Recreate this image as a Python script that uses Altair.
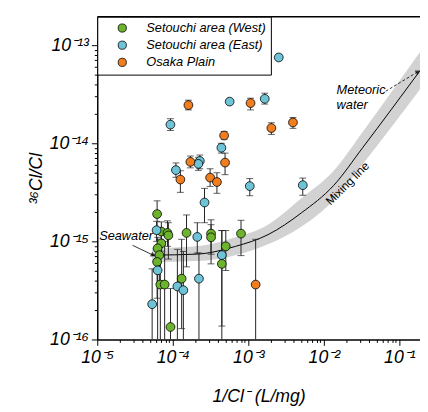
import altair as alt
import pandas as pd

FONT = "Liberation Sans"
W, H = 329, 329
XMIN, XMAX = 1e-5, 0.1875
YMIN, YMAX = 1e-16, 1.95e-13

series_names = ["Setouchi area (West)", "Setouchi area (East)", "Osaka Plain"]
series_colors = ["#6cb42c", "#6ec4d6", "#f07d1e"]

# Setouchi area (West)
west_x = [6.2e-5, 7.05e-5, 8.5e-5, 8.74e-5, 1.52e-4, 3.21e-4, 3.21e-4, 8.0e-4, 5.03e-4,
          4.46e-4, 7.05e-5, 6.3e-5, 6.64e-5, 6.2e-5, 6.84e-5, 7.8e-5, 1.31e-4, 9.33e-5]
west_y = [1.9e-15, 1.26e-15, 1.22e-15, 1.15e-15, 1.22e-15, 1.2e-15, 1.1e-15, 1.2e-15, 8.9e-16,
          5.9e-16, 9.55e-16, 8.5e-16, 7.24e-16, 6.17e-16, 3.63e-16, 3.63e-16, 4.17e-16, 1.34e-16]
west_hi = [2.59e-15, 1.58e-15, 1.62e-15, 1.55e-15, 1.86e-15, 1.66e-15, 1.48e-15, 1.64e-15, 1.29e-15,
           1.29e-15, 1.26e-15, 1.1e-15, 9.33e-16, 8.3e-16, 1.05e-15, 1.0e-15, 1.05e-15, 3.31e-16]
west_lo = [1.38e-15, 7.94e-16, 8.9e-16, 6.6e-16, 5.5e-16, 5.9e-16, 7.4e-16, 7.16e-16, 5.05e-16,
           1.37e-16, 7.24e-16, 6.31e-16, 3.72e-16, 2.63e-16, None, None, 1.29e-16, None]

# Setouchi area (East)
east_x = [2.53e-3, 5.66e-4, 1.65e-3, 9.3e-5, 4.4e-4, 2.28e-4, 2.18e-4, 1.1e-4, 2.63e-4, 1.045e-3,
          5.26e-3, 6.1e-5, 2.11e-4, 4.46e-4, 6.3e-5, 5.33e-5, 1.15e-4, 1.38e-4, 2.22e-4]
east_y = [7.5e-14, 2.66e-14, 2.84e-14, 1.55e-14, 9.0e-15, 6.6e-15, 6.17e-15, 5.33e-15, 2.49e-15, 3.66e-15,
          3.74e-15, 1.3e-15, 1.11e-15, 7.24e-16, 5.07e-16, 2.29e-16, 3.47e-16, 3.18e-16, 4.17e-16]
east_hi = [7.9e-14, 2.8e-14, 3.24e-14, 1.78e-14, 1.0e-14, 7.59e-15, 7.2e-15, 6.3e-15, 3.47e-15, 4.37e-15,
           4.42e-15, 1.6e-15, 1.55e-15, 1.29e-15, 7.9e-16, 5.25e-16, 8.3e-16, 7.9e-16, 7.6e-16]
east_lo = [7.1e-14, 2.52e-14, 2.51e-14, 1.35e-14, 7.94e-15, 5.5e-15, 5.3e-15, 4.5e-15, 1.55e-15, 2.92e-15,
           2.95e-15, 1.0e-15, 7.6e-16, None, None, None, None, None, None]

# Osaka Plain
osaka_x = [1.61e-4, 1.07e-3, 4.78e-4, 2.02e-3, 3.9e-3, 1.71e-4, 4.92e-4, 1.26e-4, 3.12e-4, 3.84e-4, 1.25e-3]
osaka_y = [2.45e-14, 2.57e-14, 1.2e-14, 1.43e-14, 1.63e-14, 6.46e-15, 6.36e-15, 4.27e-15, 4.47e-15, 4.03e-15, 3.63e-16]
osaka_hi = [2.75e-14, 2.88e-14, 1.32e-14, 1.62e-14, 1.83e-14, 7.41e-15, 7.94e-15, 5.25e-15, 5.5e-15, 5.01e-15, 1.05e-15]
osaka_lo = [2.19e-14, 2.19e-14, 1.1e-14, 1.23e-14, 1.42e-14, 5.62e-15, 4.79e-15, 3.16e-15, 3.63e-15, 3.09e-15, None]

# Mixing line and its band
mix_x = [5.33e-5, 2.05e-4, 6.78e-4, 1.82e-3, 5.03e-3, 1.35e-2, 3.3e-2, 0.1875]
mix_y = [7.24e-16, 7.41e-16, 8.9e-16, 1.17e-15, 1.95e-15, 3.72e-15, 9.12e-15, 5.5e-14]
band_hi = [8.5e-16, 8.9e-16, 1.1e-15, 1.48e-15, 2.75e-15, 5.25e-15, 1.32e-14, 8.5e-14]
band_lo = [6.17e-16, 6.31e-16, 7.24e-16, 9.33e-16, 1.41e-15, 2.63e-15, 6.17e-15, 3.55e-14]

# Annotations
seawater_arrow_x = [2.93e-5, 5.5e-5]
seawater_arrow_y = [9.12e-16, 7.24e-16]
meteoric_arrow_x = [0.0658, 0.1766]
meteoric_arrow_y = [3.39e-14, 5.37e-14]
label_text = ["Seawater", "Meteoric", "water"]
label_x = [1.06e-5, 0.01476, 0.01476]
label_y = [1.12e-15, 3.47e-14, 2.45e-14]
mixing_label_x = [0.0205]
mixing_label_y = [3.9e-15]

rows = []
for name, xs, ys, his, los in [
    (series_names[0], west_x, west_y, west_hi, west_lo),
    (series_names[1], east_x, east_y, east_hi, east_lo),
    (series_names[2], osaka_x, osaka_y, osaka_hi, osaka_lo),
]:
    for i in range(len(xs)):
        lo = los[i]
        rows.append({"series": name, "order": series_names.index(name), "x": xs[i], "y": ys[i],
                     "hi": his[i], "lo": lo if lo is not None else YMIN, "has_lo": lo is not None})
pts = pd.DataFrame(rows)
caps_hi = pts[["x", "hi"]].rename(columns={"hi": "v"})
caps_lo = pts[pts["has_lo"]][["x", "lo"]].rename(columns={"lo": "v"})
caps = pd.concat([caps_hi, caps_lo], ignore_index=True)

mix = pd.DataFrame({"x": mix_x, "y": mix_y, "hi": band_hi, "lo": band_lo})

xs = alt.Scale(type="log", domain=[XMIN, XMAX], nice=False)
ys = alt.Scale(type="log", domain=[YMIN, YMAX], nice=False)

sup = {"-": "⁻", "0": "⁰", "1": "¹", "2": "²", "3": "³", "4": "⁴", "5": "⁵", "6": "⁶", "7": "⁷", "8": "⁸", "9": "⁹"}


def supnum(e):
    return "".join(sup[c] for c in str(e))


def ticks(e0, e1, vmax):
    out = []
    for e in range(e0, e1 + 1):
        for m in range(1, 10):
            v = float(f"{m}e{e}")
            if v <= vmax * 1.0001:
                out.append(v)
    return out


def label_expr(e0, e1):
    L = "(log(datum.value)/LN10)"
    expr = "''"
    for e in range(e0, e1 + 1):
        expr = f"(round({L}) == {e} ? '10{supnum(e)}' : {expr})"
    return f"abs({L} - round({L})) > 0.001 ? '' : {expr}"


def tick_size_cond():
    L = "(log(datum.value)/LN10)"
    return {"condition": {"test": f"abs({L} - round({L})) < 0.001", "value": 6}, "value": 3}


axis_common = dict(
    grid=False, domainColor="black", domainWidth=1.5, tickColor="black", tickWidth=1,
    labelFont=FONT, labelFontSize=18, labelFontStyle="italic", labelColor="black",
    titleFont=FONT, titleFontSize=18, titleFontStyle="italic", titleFontWeight="normal",
    titleColor="black", labelOverlap=False, labelFlush=False, tickSize=tick_size_cond(),
)

x_axis = alt.Axis(values=ticks(-5, -1, XMAX), labelExpr=label_expr(-5, -1), title="1/Cl⁻ (L/mg)",
                  labelPadding=3, titlePadding=22, **axis_common)
y_axis = alt.Axis(values=ticks(-16, -13, YMAX), labelExpr=label_expr(-16, -13), title="³⁶Cl/Cl",
                  labelPadding=3, titlePadding=4, **axis_common)

band = alt.Chart(mix).mark_area(color="#d2d2d2", interpolate="monotone", clip=True).encode(
    x=alt.X("x:Q", scale=xs, axis=x_axis), y=alt.Y("lo:Q", scale=ys, axis=y_axis), y2="hi:Q")
line = alt.Chart(mix).mark_line(color="black", strokeWidth=1, interpolate="monotone", clip=True).encode(
    x=alt.X("x:Q", scale=xs), y=alt.Y("y:Q", scale=ys))

err = alt.Chart(pts).mark_rule(color="#222", strokeWidth=1, clip=True).encode(
    x=alt.X("x:Q", scale=xs), y=alt.Y("lo:Q", scale=ys), y2="hi:Q")
cap = alt.Chart(caps).mark_point(shape="stroke", size=49, color="#222", strokeWidth=1, clip=True).encode(
    x=alt.X("x:Q", scale=xs), y=alt.Y("v:Q", scale=ys))

points = alt.Chart(pts).mark_point(filled=True, size=80, stroke="black", strokeWidth=0.8, opacity=1).encode(
    x=alt.X("x:Q", scale=xs), y=alt.Y("y:Q", scale=ys),
    fill=alt.Fill("series:N", scale=alt.Scale(domain=series_names, range=series_colors),
                  legend=alt.Legend(title=None, orient="top-left", offset=0, strokeColor="black",
                                    fillColor="white", padding=5, symbolOffset=14, labelOffset=18,
                                    labelFont=FONT, labelFontSize=13, labelFontStyle="italic",
                                    labelColor="black", symbolSize=70, symbolType="circle",
                                    symbolStrokeColor="black", symbolStrokeWidth=0.8, rowPadding=3.5)),
    order=alt.Order("order:Q"))

sw = pd.DataFrame({"x": seawater_arrow_x, "y": seawater_arrow_y})
mw = pd.DataFrame({"x": meteoric_arrow_x, "y": meteoric_arrow_y})
sw_line = alt.Chart(sw).mark_line(color="black", strokeWidth=0.8).encode(
    x=alt.X("x:Q", scale=xs), y=alt.Y("y:Q", scale=ys))
mw_line = alt.Chart(mw).mark_line(color="black", strokeWidth=0.8, strokeDash=[3, 2]).encode(
    x=alt.X("x:Q", scale=xs), y=alt.Y("y:Q", scale=ys))
sw_head = alt.Chart(sw.tail(1)).mark_point(shape="triangle-right", filled=True, size=30, color="black",
                                          angle=26).encode(x=alt.X("x:Q", scale=xs), y=alt.Y("y:Q", scale=ys))
mw_head = alt.Chart(mw.tail(1)).mark_point(shape="triangle-right", filled=True, size=30, color="black",
                                          angle=329).encode(x=alt.X("x:Q", scale=xs), y=alt.Y("y:Q", scale=ys))

labels = pd.DataFrame({"t": label_text, "x": label_x, "y": label_y})
label_marks = alt.Chart(labels).mark_text(font=FONT, fontSize=13, fontStyle="italic", align="left",
                                          baseline="middle", color="black").encode(
    x=alt.X("x:Q", scale=xs), y=alt.Y("y:Q", scale=ys), text="t:N")
mixlab = pd.DataFrame({"t": ["Mixing line"], "x": mixing_label_x, "y": mixing_label_y})
mix_text = alt.Chart(mixlab).mark_text(font=FONT, fontSize=12, align="center", baseline="middle",
                                       angle=315, color="black").encode(
    x=alt.X("x:Q", scale=xs), y=alt.Y("y:Q", scale=ys), text="t:N")

top_border = alt.Chart(pd.DataFrame({"a": [0]})).mark_rule(color="black", strokeWidth=1.5).encode(
    x=alt.value(0), x2=alt.value(W), y=alt.value(0))

chart = alt.layer(band, line, err, cap, points, sw_line, mw_line, sw_head, mw_head,
                  label_marks, mix_text, top_border).properties(
    width=W, height=H,
    autosize=alt.AutoSizeParams(type="none"),
    padding={"left": 91, "top": 5, "right": 0, "bottom": 69},
).configure_view(stroke=None)

chart.save("out.html", embed_options={"renderer": "svg", "actions": False})
